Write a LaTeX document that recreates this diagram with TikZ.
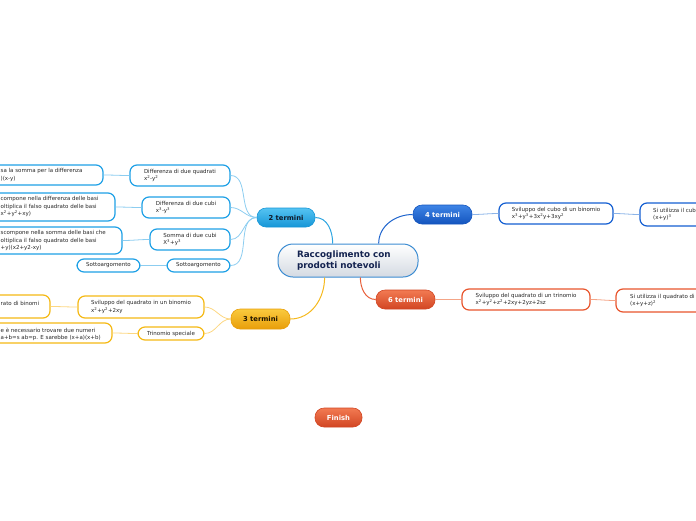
\documentclass[tikz,border=0pt]{standalone}
\usepackage{fontspec}
\setmainfont{DejaVu Sans}
\newcommand{\myp}[1]{\textsuperscript{#1}}
\definecolor{textgray}{RGB}{40,40,40}
\definecolor{bchild}{RGB}{30,160,230}
\definecolor{blink}{RGB}{140,205,240}
\definecolor{achild}{RGB}{245,185,20}
\definecolor{alink}{RGB}{252,215,130}
\definecolor{dchild}{RGB}{20,95,210}
\definecolor{dlink}{RGB}{140,180,232}
\definecolor{ochild}{RGB}{232,85,45}
\definecolor{olink}{RGB}{244,165,135}
\definecolor{cborder}{RGB}{60,140,210}
\definecolor{navy}{RGB}{20,35,80}
\begin{document}
\begin{tikzpicture}[x=1pt,y=-1pt,
  mainbox/.style={rounded corners=9pt, minimum height=19pt, inner sep=0pt, line width=0.6pt,
    font=\fontsize{6.8}{8}\selectfont\bfseries},
  childbox/.style={rounded corners=7pt, inner sep=0pt, fill=white, line width=1.2pt,
    font=\fontsize{5.5}{7.3}\selectfont, text=textgray, align=left},
  ctext/.style={inner sep=0pt, font=\fontsize{5.5}{7.3}\selectfont, text=textgray, align=left, anchor=west},
  bluechild/.style={childbox, draw=bchild},
  amberchild/.style={childbox, draw=achild},
  darkchild/.style={childbox, draw=dchild},
  orangechild/.style={childbox, draw=ochild},
  link/.style={line width=0.8pt},
  mainlink/.style={line width=1pt}
]
\useasboundingbox (0,0) rectangle (696,520);
\clip (0,0) rectangle (696,520);

% central node
\node[rounded corners=15pt, minimum width=140pt, minimum height=33pt, inner sep=0pt,
  top color=white, bottom color={rgb,255:red,212;green,218;blue,226}, draw=cborder, line width=1pt,
  font=\fontsize{8.8}{10.5}\selectfont\bfseries, text=navy, text width=102pt, align=left] (c) at (348,260.5)
  {Raccoglimento con\\prodotti notevoli};

% main branches
\node[mainbox, minimum width=58pt, top color={rgb,255:red,85;green,195;blue,242}, bottom color={rgb,255:red,22;green,150;blue,215}, draw={rgb,255:red,22;green,150;blue,215}, text={rgb,255:red,15;green,25;blue,40}] (t2) at (286,217.5) {2 termini};
\node[mainbox, minimum width=59pt, top color={rgb,255:red,62;green,132;blue,230}, bottom color={rgb,255:red,20;green,85;blue,190}, draw={rgb,255:red,20;green,85;blue,190}, text=white] (t4) at (442.5,214.5) {4 termini};
\node[mainbox, minimum width=59pt, top color={rgb,255:red,242;green,122;blue,82}, bottom color={rgb,255:red,210;green,70;blue,35}, draw={rgb,255:red,210;green,70;blue,35}, text=white] (t6) at (405.5,299.5) {6 termini};
\node[mainbox, minimum width=59pt, minimum height=20pt, top color={rgb,255:red,250;green,202;blue,62}, bottom color={rgb,255:red,232;green,158;blue,10}, draw={rgb,255:red,232;green,158;blue,10}, text={rgb,255:red,30;green,20;blue,0}] (t3) at (260.5,319) {3 termini};
\node[mainbox, minimum width=47pt, top color={rgb,255:red,242;green,122;blue,82}, bottom color={rgb,255:red,210;green,70;blue,35}, draw={rgb,255:red,210;green,70;blue,35}, text=white] (fin) at (338.5,417.5) {Finish};

% central links
\draw[mainlink, draw={rgb,255:red,45;green,165;blue,225}] (c.132) to[out=90,in=0] (t2.east);
\draw[mainlink, draw={rgb,255:red,30;green,100;blue,205}] (c.29) to[out=90,in=180] (t4.west);
\draw[mainlink, draw={rgb,255:red,245;green,185;blue,30}] (c.216) to[out=270,in=0] (t3.east);
\draw[mainlink, draw={rgb,255:red,232;green,95;blue,58}] (c.306) to[out=270,in=180] (t6.west);

% 2 termini children
\node[bluechild, minimum width=100pt, minimum height=21pt] (a1) at (180,175.5) {Differenza di due quadrati\\x\myp{2}-y\myp{2}};
\node[bluechild, minimum width=88pt, minimum height=21pt] (a2) at (186,207.5) {Differenza di due cubi\\x\myp{3}-y\myp{3}};
\node[bluechild, minimum width=80pt, minimum height=21pt] (a3) at (190,239.5) {Somma di due cubi\\X\myp{3}+y\myp{3}};
\node[bluechild, minimum width=63pt, minimum height=13pt] (a4) at (198.5,265.5) {Sottoargomento};

\node[bluechild, minimum width=143pt, minimum height=20pt] (b1) at (31.5,175) {};
\node[ctext] (b1t) at (0.5,175) {sa la somma per la differenza\\)(x-y)};
\node[bluechild, minimum width=155pt, minimum height=28pt] (b2) at (37.5,207) {};
\node[ctext] (b2t) at (0.5,206.7) {compone nella differenza delle basi\\oltiplica il falso quadrato delle basi\\x\myp{2}+y\myp{2}+xy)};
\node[bluechild, minimum width=162pt, minimum height=27pt] (b3) at (41,240.5) {};
\node[ctext] (b3t) at (0.5,240.7) {scompone nella somma delle basi che\\oltiplica il falso quadrato delle basi\\+y)(x2+y2-xy)};
\node[bluechild, minimum width=63pt, minimum height=13pt] (b4) at (108.5,265.5) {Sottoargomento};

\foreach \k in {a1,a2,a3,a4}
  \draw[link, blink] (t2.west) to[out=180,in=0] (\k.east);
\draw[link, blink] (a1.west) to[out=180,in=0] (b1.east);
\draw[link, blink] (a2.west) to[out=180,in=0] (b2.east);
\draw[link, blink] (a3.west) to[out=180,in=0] (b3.east);
\draw[link, blink] (a4.west) to[out=180,in=0] (b4.east);

% 3 termini children
\node[amberchild, minimum width=126pt, minimum height=22pt] (s1) at (141,307) {Sviluppo del quadrato in un binomio\\x\myp{2}+y\myp{2}+2xy};
\node[amberchild, minimum width=66pt, minimum height=13pt] (s2) at (171,333.5) {Trinomio speciale};
\node[amberchild, minimum width=90pt, minimum height=23pt] (s1c) at (5,306.5) {};
\node[ctext] (s1ct) at (0.5,303) {rato di binomi};
\node[amberchild, minimum width=152pt, minimum height=20pt] (s2c) at (36,333) {};
\node[ctext] (s2ct) at (0.5,334.3) {e è necessario trovare due numeri\\a+b=s ab=p. E sarebbe (x+a)(x+b)};

\draw[link, alink] (t3.west) to[out=180,in=0] (s1.east);
\draw[link, alink] (t3.west) to[out=180,in=0] (s2.east);
\draw[link, alink] (s1.west) to[out=180,in=0] (s1c.east);
\draw[link, alink] (s2.west) to[out=180,in=0] (s2c.east);

% 4 termini children
\node[darkchild, minimum width=114pt, minimum height=21pt] (f1) at (556,213.5) {Sviluppo del cubo di un binomio\\x\myp{3}+y\myp{3}+3x\myp{2}y+3xy\myp{2}};
\node[darkchild, minimum width=100pt, minimum height=23pt] (f2) at (690,214.5) {};
\node[ctext] (f2t) at (653,214.5) {Si utilizza il cub\\(x+y)\myp{3}};
\draw[link, dlink] (t4.east) to[out=0,in=180] (f1.west);
\draw[link, dlink] (f1.east) to[out=0,in=180] (f2.west);

% 6 termini children
\node[orangechild, minimum width=128pt, minimum height=21pt] (g1) at (526,299.5) {Sviluppo del quadrato di un trinomio\\x\myp{2}+y\myp{2}+z\myp{2}+2xy+2yz+2sz};
\node[orangechild, minimum width=124pt, minimum height=23pt] (g2) at (678,300.5) {};
\node[ctext] (g2t) at (630,300.5) {Si utilizza il quadrato di\\(x+y+z)\myp{2}};
\draw[link, olink] (t6.east) to[out=0,in=180] (g1.west);
\draw[link, olink] (g1.east) to[out=0,in=180] (g2.west);
\end{tikzpicture}
\end{document}
